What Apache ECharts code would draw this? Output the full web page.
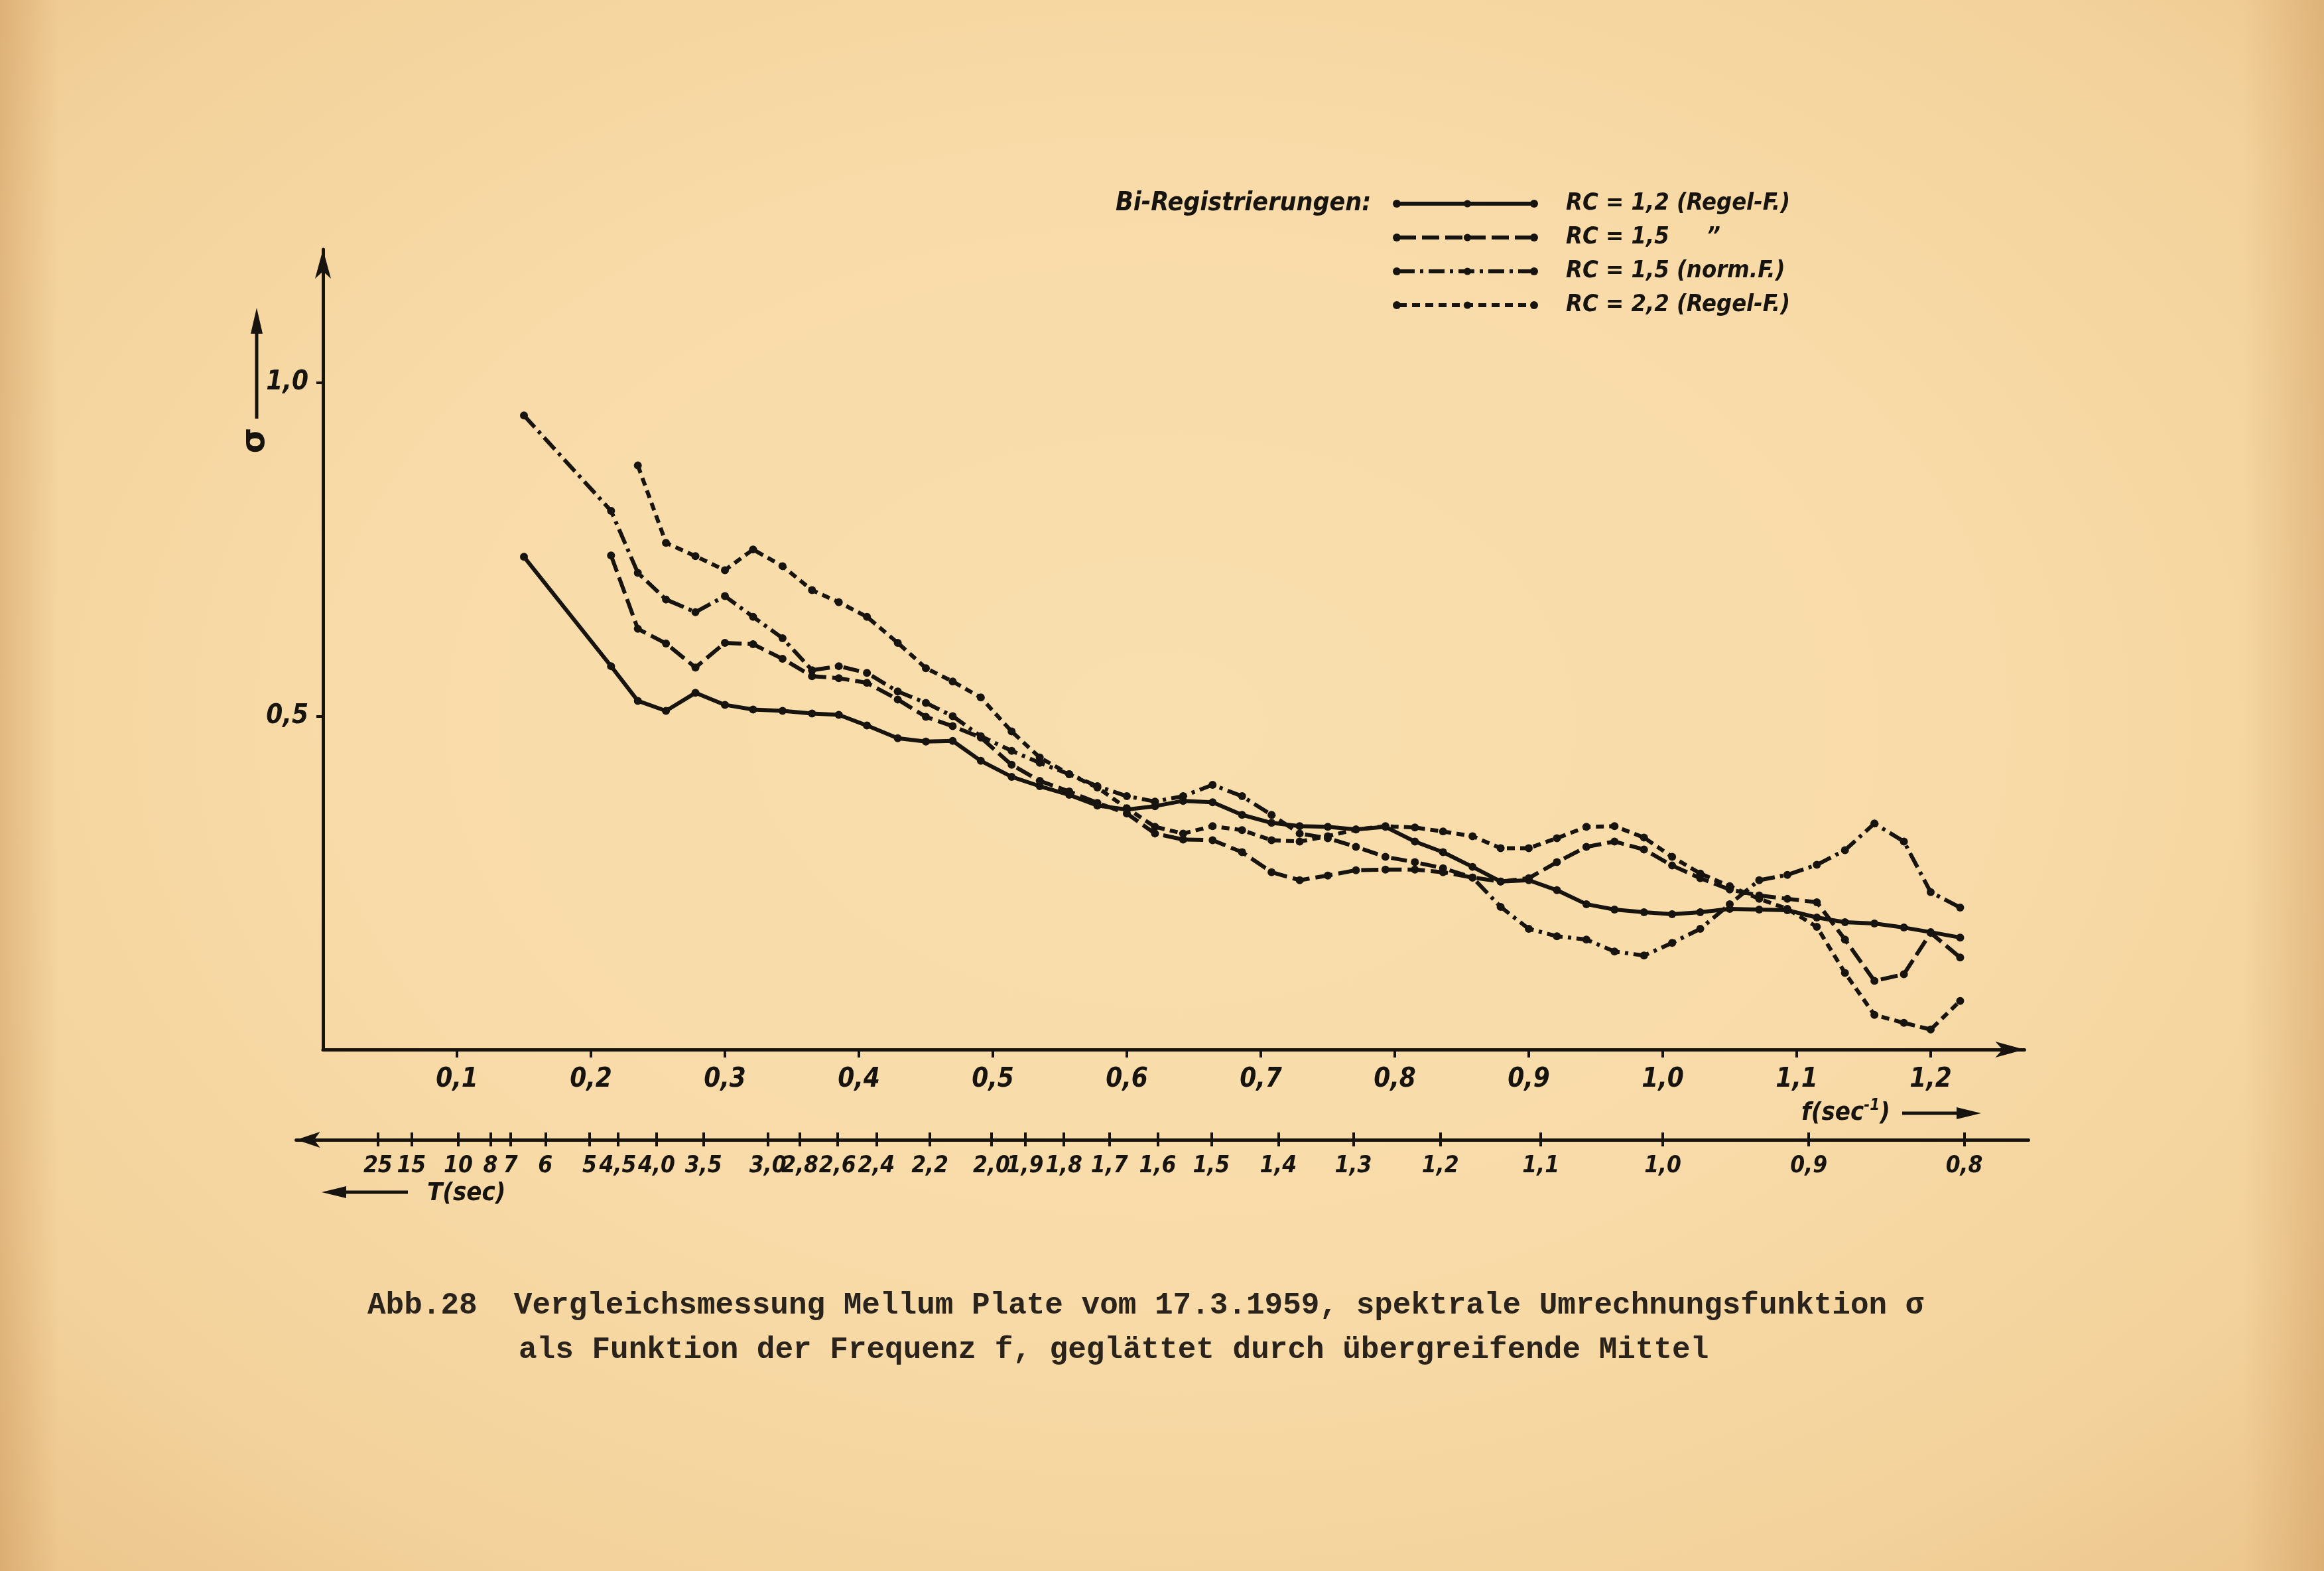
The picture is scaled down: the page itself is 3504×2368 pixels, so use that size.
<!DOCTYPE html>
<html>
<head>
<meta charset="utf-8">
<script src="https://cdn.jsdelivr.net/npm/echarts@6/dist/echarts.min.js"></script>
<style>
html,body{margin:0;padding:0;width:3504px;height:2368px;overflow:hidden;}
body{
  background:
    linear-gradient(90deg, rgba(190,130,70,0.35) 0px, rgba(190,130,70,0) 90px, rgba(190,130,70,0) 3380px, rgba(190,130,70,0.32) 3504px),
    radial-gradient(ellipse 78% 80% at 50% 46%, #f9dfae 0%, #f8dba8 45%, #f3d29b 75%, #e8bf85 100%);
}
#chart{width:3504px;height:2368px;}
</style>
</head>
<body>
<div id="chart"></div>
<script>
// ---- data ----
// frequency grid f (sec^-1) of the plotted points
const fValues = [0.150, 0.215, 0.235, 0.256, 0.278, 0.300, 0.321, 0.343, 0.365, 0.385,
                 0.406, 0.429, 0.450, 0.470, 0.491, 0.514, 0.535, 0.557, 0.578, 0.600,
                 0.621, 0.642, 0.664, 0.686, 0.708, 0.729, 0.750, 0.771, 0.793, 0.815,
                 0.836, 0.858, 0.879, 0.900, 0.921, 0.943, 0.964, 0.986, 1.007, 1.028,
                 1.050, 1.072, 1.093, 1.115, 1.136, 1.158, 1.180, 1.200, 1.222];
// sigma, RC = 1,2 (Regel-F.)  solid
const sigmaRC12 = [0.739, 0.575, 0.523, 0.508, 0.535, 0.517, 0.510, 0.508, 0.504, 0.502,
                   0.486, 0.467, 0.462, 0.463, 0.433, 0.409, 0.395, 0.382, 0.366, 0.360,
                   0.365, 0.373, 0.371, 0.352, 0.340, 0.335, 0.334, 0.330, 0.334, 0.312,
                   0.296, 0.274, 0.252, 0.254, 0.239, 0.218, 0.210, 0.206, 0.203, 0.206,
                   0.211, 0.210, 0.209, 0.198, 0.191, 0.189, 0.183, 0.176, 0.168];
// sigma, RC = 1,5  long dashes
const sigmaRC15 = [null, 0.741, 0.631, 0.609, 0.573, 0.610, 0.608, 0.586, 0.560, 0.557,
                   0.550, 0.525, 0.499, 0.485, 0.468, 0.427, 0.403, 0.387, 0.370, 0.354,
                   0.324, 0.315, 0.314, 0.296, 0.266, 0.254, 0.261, 0.269, 0.270, 0.270,
                   0.266, 0.258, 0.252, 0.257, 0.281, 0.304, 0.312, 0.300, 0.276, 0.257,
                   0.240, 0.231, 0.226, 0.221, 0.165, 0.103, 0.113, 0.175, 0.138];
// sigma, RC = 1,5 (norm.F.)  dash-dot
const sigmaRC15norm = [0.951, 0.808, 0.715, 0.675, 0.656, 0.680, 0.649, 0.617, 0.569, 0.575,
                       0.565, 0.537, 0.520, 0.500, 0.470, 0.448, 0.430, 0.413, 0.395, 0.380,
                       0.372, 0.380, 0.397, 0.380, 0.352, 0.324, 0.317, 0.304, 0.289, 0.281,
                       0.272, 0.258, 0.214, 0.181, 0.170, 0.165, 0.147, 0.141, 0.160, 0.181,
                       0.218, 0.254, 0.262, 0.277, 0.299, 0.339, 0.312, 0.236, 0.213];
// sigma, RC = 2,2 (Regel-F.)  short dashes
const sigmaRC22 = [null, null, 0.876, 0.760, 0.740, 0.719, 0.750, 0.725, 0.689, 0.671,
                   0.649, 0.610, 0.572, 0.552, 0.528, 0.477, 0.438, 0.413, 0.393, 0.362,
                   0.334, 0.324, 0.335, 0.329, 0.314, 0.312, 0.320, 0.330, 0.335, 0.333,
                   0.327, 0.320, 0.302, 0.302, 0.317, 0.334, 0.335, 0.318, 0.289, 0.264,
                   0.245, 0.226, 0.211, 0.184, 0.115, 0.052, 0.040, 0.030, 0.073];

const seriesNames = ['RC = 1,2 (Regel-F.)', 'RC = 1,5     \u201D', 'RC = 1,5 (norm.F.)', 'RC = 2,2 (Regel-F.)'];

// frequency axis ticks
const fTicks = [0.1, 0.2, 0.3, 0.4, 0.5, 0.6, 0.7, 0.8, 0.9, 1.0, 1.1, 1.2];
const fTickLabels = ['0,1', '0,2', '0,3', '0,4', '0,5', '0,6', '0,7', '0,8', '0,9', '1,0', '1,1', '1,2'];
// sigma axis ticks
const sigmaTicks = [0.5, 1.0];
const sigmaTickLabels = ['0,5', '1,0'];
// period axis: tick positions (in f units, as drawn) and labels
const tTickF = [0.041, 0.066, 0.101, 0.125, 0.140, 0.166, 0.199, 0.220, 0.249, 0.284,
                0.332, 0.356, 0.384, 0.413, 0.453, 0.499, 0.524, 0.553, 0.587, 0.623,
                0.663, 0.713, 0.769, 0.834, 0.909, 1.000, 1.109, 1.225];
const tTickLabels = ['25', '15', '10', '8', '7', '6', '5', '4,5', '4,0', '3,5',
                     '3,0', '2,8', '2,6', '2,4', '2,2', '2,0', '1,9', '1,8', '1,7', '1,6',
                     '1,5', '1,4', '1,3', '1,2', '1,1', '1,0', '0,9', '0,8'];

// ---- chart ----
const INK = '#17140f';
const LABEL_FONT = '"DejaVu Sans Condensed", "Liberation Sans Narrow", "DejaVu Sans", sans-serif';
const TYPE_FONT = '"Liberation Mono", "DejaVu Sans Mono", monospace';

function labelFor(list, labels, v) {
  let best = 0, bd = Infinity;
  for (let i = 0; i < list.length; i++) {
    const d = Math.abs(list[i] - v);
    if (d < bd) { bd = d; best = i; }
  }
  return labels[best];
}
function pairs(vals) {
  const out = [];
  for (let i = 0; i < fValues.length; i++) if (vals[i] != null) out.push([fValues[i], vals[i]]);
  return out;
}

const dashTypes = ['solid', [26, 9], [24, 8, 5, 8], [12, 8]];
const valueSets = [sigmaRC12, sigmaRC15, sigmaRC15norm, sigmaRC22];

const tickFont = { fontFamily: LABEL_FONT, fontStyle: 'italic', fontWeight: 'bold', fontSize: 40, color: INK };
const tFont = { fontFamily: LABEL_FONT, fontStyle: 'italic', fontWeight: 'bold', fontSize: 35, color: INK };

const chart = echarts.init(document.getElementById('chart'), null, { renderer: 'canvas', width: 3504, height: 2368 });

// legend row centres / line ends (decorative end dots of the legend samples)
const legendRowsY = [307, 358, 409, 460];
const legendDots = [];
legendRowsY.forEach(y => {
  [2106, 2313].forEach(x => legendDots.push({ type: 'circle', shape: { cx: x, cy: y, r: 6 }, style: { fill: INK } }));
});

const option = {
  animation: false,
  backgroundColor: 'transparent',
  grid: [
    { left: 487, top: 376, width: 2565.4, height: 1206, containLabel: false, outerBoundsMode: 'none' },
    { left: 446.6, top: 1717, width: 2611.9, height: 1, containLabel: false, outerBoundsMode: 'none' }
  ],
  xAxis: [
    {
      gridIndex: 0, type: 'value', min: 0, max: 1.27, position: 'bottom',
      axisLine: { show: true, lineStyle: { color: INK, width: 5 }, symbol: ['none', 'arrow'], symbolSize: [18, 44] },
      axisTick: { show: true, inside: false, length: 12, lineStyle: { color: INK, width: 4 }, customValues: fTicks },
      axisLabel: Object.assign({ show: true, margin: 26, customValues: fTicks, hideOverlap: false,
        formatter: v => labelFor(fTicks, fTickLabels, v) }, tickFont),
      splitLine: { show: false }
    },
    {
      gridIndex: 1, type: 'value', min: -0.02, max: 1.273, position: 'bottom',
      axisLine: { show: true, lineStyle: { color: INK, width: 5 }, symbol: ['arrow', 'none'], symbolSize: [18, 36] },
      axisTick: { show: true, inside: false, length: 10, lineStyle: { color: INK, width: 4 }, customValues: tTickF },
      axisLabel: Object.assign({ show: true, margin: 22, customValues: tTickF, hideOverlap: false,
        formatter: v => labelFor(tTickF, tTickLabels, v) }, tFont),
      splitLine: { show: false }
    },
    {
      gridIndex: 1, type: 'value', min: -0.02, max: 1.273, position: 'top',
      axisLine: { show: false },
      axisTick: { show: true, inside: false, length: 10, lineStyle: { color: INK, width: 4 }, customValues: tTickF },
      axisLabel: { show: false },
      splitLine: { show: false }
    }
  ],
  yAxis: [
    {
      gridIndex: 0, type: 'value', min: 0, max: 1.2, position: 'left',
      axisLine: { show: true, lineStyle: { color: INK, width: 5 }, symbol: ['none', 'arrow'], symbolSize: [18, 44] },
      axisTick: { show: true, inside: false, length: 10, lineStyle: { color: INK, width: 4 }, customValues: sigmaTicks },
      axisLabel: Object.assign({ show: true, margin: 22, customValues: sigmaTicks, hideOverlap: false,
        formatter: v => labelFor(sigmaTicks, sigmaTickLabels, v) }, tickFont),
      splitLine: { show: false }
    },
    { gridIndex: 1, type: 'value', show: false, min: 0, max: 1 }
  ],
  legend: {
    show: true, orient: 'vertical', left: 2101, top: 282, padding: 5,
    itemWidth: 207, itemHeight: 14, itemGap: 11,
    selectedMode: false,
    data: seriesNames,
    lineStyle: { width: 6 },
    textStyle: { fontFamily: LABEL_FONT, fontStyle: 'italic', fontWeight: 'bold', fontSize: 36, lineHeight: 40,
                 color: INK, padding: [0, 0, 0, 40] }
  },
  series: seriesNames.map((name, i) => ({
    name: name,
    type: 'line',
    xAxisIndex: 0, yAxisIndex: 0,
    data: pairs(valueSets[i]),
    smooth: false,
    symbol: 'circle', symbolSize: 12, showSymbol: true,
    itemStyle: { color: INK },
    lineStyle: { color: INK, width: 6, type: dashTypes[i], cap: 'butt', join: 'round' },
    emphasis: { disabled: true },
    z: 3
  })),
  graphic: legendDots.concat([
    // legend heading
    { type: 'text', x: 1682, y: 307, style: { text: 'Bi-Registrierungen:', fontFamily: LABEL_FONT, fontStyle: 'italic',
      fontWeight: 'bold', fontSize: 39, fill: INK, align: 'left', verticalAlign: 'middle' } },
    // sigma axis name with arrow
    { type: 'line', shape: { x1: 387, y1: 631, x2: 387, y2: 498 }, style: { stroke: INK, lineWidth: 5 } },
    { type: 'polygon', shape: { points: [[387, 464], [378, 503], [396, 503]] }, style: { fill: INK } },
    { type: 'text', x: 385, y: 664, rotation: Math.PI / 2, style: { text: 'σ', fontFamily: '"DejaVu Sans", sans-serif',
      fontWeight: 'bold', fontSize: 50, fill: INK, align: 'center', verticalAlign: 'middle' } },
    // f axis name with arrow
    { type: 'text', x: 2716, y: 1678, style: {
      text: '{a|f(sec}{b|-1}{a|)}', align: 'left', verticalAlign: 'middle', fill: INK,
      rich: {
        a: { fontFamily: LABEL_FONT, fontStyle: 'italic', fontWeight: 'bold', fontSize: 38, lineHeight: 46, fill: INK },
        b: { fontFamily: LABEL_FONT, fontStyle: 'italic', fontWeight: 'bold', fontSize: 24, lineHeight: 46, verticalAlign: 'top', fill: INK }
      } } },
    { type: 'line', shape: { x1: 2868, y1: 1678, x2: 2955, y2: 1678 }, style: { stroke: INK, lineWidth: 5 } },
    { type: 'polygon', shape: { points: [[2987, 1678], [2950, 1669], [2950, 1687]] }, style: { fill: INK } },
    // T axis name with arrow
    { type: 'line', shape: { x1: 518, y1: 1797, x2: 615, y2: 1797 }, style: { stroke: INK, lineWidth: 5 } },
    { type: 'polygon', shape: { points: [[485, 1797], [522, 1788], [522, 1806]] }, style: { fill: INK } },
    { type: 'text', x: 644, y: 1799, style: { text: 'T(sec)', fontFamily: LABEL_FONT, fontStyle: 'italic',
      fontWeight: 'bold', fontSize: 38, fill: INK, align: 'left', verticalAlign: 'middle' } },
    // caption (typewriter)
    { type: 'text', x: 554, y: 1968, style: { text: 'Abb.28  Vergleichsmessung Mellum Plate vom 17.3.1959, spektrale Umrechnungsfunktion σ',
      fontFamily: TYPE_FONT, fontWeight: 'bold', fontSize: 46, fill: '#2a231c', align: 'left', verticalAlign: 'middle' } },
    { type: 'text', x: 782, y: 2035, style: { text: 'als Funktion der Frequenz f, geglättet durch übergreifende Mittel',
      fontFamily: TYPE_FONT, fontWeight: 'bold', fontSize: 46, fill: '#2a231c', align: 'left', verticalAlign: 'middle' } }
  ])
};
chart.setOption(option);
</script>
</body>
</html>
